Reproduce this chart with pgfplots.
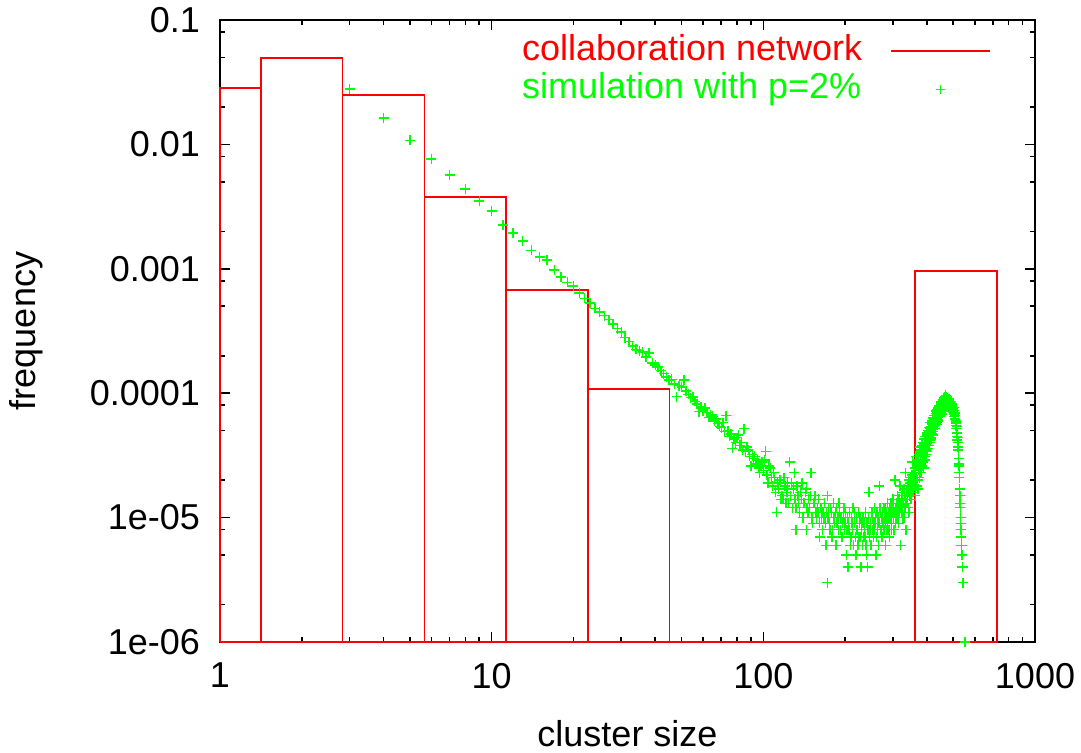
\documentclass[border=0pt]{standalone}
\usepackage{fontspec}
\setmainfont{Liberation Sans}
\usepackage{pgfplots}
\usepackage{pgfplotstable}
\pgfplotsset{compat=1.18}
\definecolor{gpred}{RGB}{255,0,0}
\definecolor{gpgreen}{RGB}{0,255,0}
\pgfplotsset{
  barleg/.style={legend image code/.code={\draw[##1] (0pt,0pt) -- (49.5pt,0pt);}},
  markleg/.style={legend image code/.code={\draw[##1, mark size=2.2pt, line width=0.5pt, mark indices={2}] plot coordinates {(0pt,0pt) (24.75pt,0pt) (49.5pt,0pt)};}},
}

\pgfplotstableread{
x y
1 1e-6
1 0.0284
1.414 0.0284
1.414 1e-6
1.414 0.0495
2.828 0.0495
2.828 1e-6
2.828 0.0249
5.657 0.0249
5.657 1e-6
5.657 0.00377
11.31 0.00377
11.31 1e-6
11.31 0.000676
22.63 0.000676
22.63 1e-6
22.63 0.000108
45.25 0.000108
45.25 1e-6
362 1e-6
362 0.00096
724 0.00096
724 1e-6
1 1e-6
}\bardata

\pgfplotstableread{
x y
3 0.0279
4 0.0163
5 0.0108
6 0.00764
7 0.00568
8 0.00438
9 0.00351
10 0.00292
11 0.00225
12 0.00194
13 0.00167
14 0.00141
15 0.00124
16 0.00118
17 0.00098
18 0.00086
19 0.00078
20 0.00073
21 0.00064
22 0.00058
23 0.00053
24 0.00048
25 0.00045
26 0.00042
27 0.00039
28 0.00036
29 0.00033
30 0.00031
31 0.00028
32 0.00026
33 0.00024
34 0.000225
35 0.00022
36 0.000215
37 0.000195
38 0.00021
39 0.000175
40 0.000168
41 162e-6
42 152e-6
43 144e-6
44 135e-6
45 128e-6
46 129e-6
47 119e-6
48 94e-6
49 115e-6
50 112e-6
51 128e-6
52 104e-6
53 98e-6
54 92e-6
55 93e-6
56 86e-6
57 82e-6
58 71e-6
59 78e-6
60 72e-6
61 76e-6
62 70e-6
63 64e-6
64 67e-6
65 65e-6
66 60e-6
67 62e-6
68 57e-6
69 54e-6
70 53e-6
71 58e-6
72 49e-6
73 66e-6
74 50e-6
75 45e-6
76 47e-6
77 36e-6
78 43e-6
79 40e-6
80 44e-6
81 46e-6
82 38e-6
83 40e-6
84 35e-6
85 52e-6
86 34e-6
87 37e-6
88 35e-6
89 31e-6
90 26e-6
91 32e-6
92 30e-6
93 31e-6
94 27e-6
95 29e-6
96 25e-6
97 23e-6
98 26e-6
99 28e-6
100 24e-6
101 29e-6
102 34e-6
103 22e-6
104 19e-6
105 26e-6
106 25e-6
107 21e-6
108 18e-6
109 23e-6
110 21e-6
111 16e-6
112 11e-6
113 19e-6
114 17e-6
115 20e-6
116 14e-6
117 15e-6
118 14e-6
119 21e-6
120 18e-6
121 13e-6
122 16e-6
123 19e-6
124 13e-6
125 28e-6
126 15e-6
127 19e-6
128 12e-6
129 17e-6
130 23e-6
131 14e-6
132 12e-6
132 8e-6
133 18e-6
134 15e-6
135 13e-6
136 11e-6
137 16e-6
138 14e-6
139 19e-6
140 10e-6
141 13e-6
142 13e-6
143 16e-6
144 17e-6
144 8e-6
145 12e-6
146 11e-6
147 14e-6
148 12e-6
149 15e-6
150 23e-6
151 10e-6
152 9e-6
153 13e-6
154 13e-6
155 15e-6
156 11e-6
157 10e-6
158 12e-6
159 11e-6
160 14e-6
161 9e-6
161 7e-6
162 12e-6
163 12e-6
164 10e-6
165 8e-6
166 11e-6
167 10e-6
168 13e-6
169 9e-6
170 6e-6
171 11e-6
172 15e-6
172 3e-6
173 10e-6
174 12e-6
175 9e-6
176 8e-6
177 12e-6
178 11e-6
179 7e-6
180 8e-6
181 13e-6
182 10e-6
183 9e-6
184 11e-6
185 6e-6
186 12e-6
187 9e-6
188 10e-6
189 8e-6
190 13e-6
191 11e-6
192 8e-6
193 10e-6
194 7e-6
195 7e-6
196 9e-6
197 10e-6
198 12e-6
199 8e-6
200 9e-6
201 11e-6
202 5e-6
203 8e-6
204 10e-6
205 4e-6
206 9e-6
207 8e-6
208 11e-6
209 6e-6
210 7e-6
211 10e-6
212 9e-6
213 8e-6
214 12e-6
215 6e-6
216 9e-6
217 11e-6
218 7e-6
219 5e-6
220 10e-6
221 8e-6
222 8e-6
223 6e-6
224 11e-6
225 7e-6
226 9e-6
227 10e-6
228 7e-6
229 4e-6
230 8e-6
231 9e-6
232 6e-6
233 10e-6
234 7e-6
235 9e-6
236 8e-6
237 7e-6
238 11e-6
239 6e-6
240 5e-6
241 9e-6
242 4e-6
243 8e-6
244 10e-6
245 16e-6
246 7e-6
247 8e-6
248 9e-6
249 6e-6
250 6e-6
251 11e-6
252 10e-6
253 8e-6
254 9e-6
255 7e-6
256 12e-6
257 8e-6
258 9e-6
259 10e-6
260 5e-6
261 7e-6
262 11e-6
263 8e-6
264 9e-6
265 10e-6
266 6e-6
267 18e-6
268 9e-6
269 12e-6
270 11e-6
271 8e-6
272 10e-6
273 7e-6
274 9e-6
275 11e-6
276 9e-6
277 12e-6
278 8e-6
279 10e-6
280 12e-6
281 9e-6
282 6e-6
283 11e-6
284 10e-6
285 8e-6
286 13e-6
287 9e-6
288 10e-6
289 11e-6
290 8e-6
291 7e-6
292 12e-6
293 10e-6
294 11e-6
295 13e-6
296 8e-6
297 9e-6
298 11e-6
299 14e-6
300 12e-6
301 10e-6
302 14e-6
303 8e-6
304 11e-6
305 20e-6
306 12e-6
307 9e-6
308 10e-6
309 13e-6
310 11e-6
311 13e-6
312 15e-6
313 10e-6
314 12e-6
315 9e-6
316 14e-6
317 11e-6
318 18e-6
319 12e-6
320 6e-6
321 13e-6
322 15e-6
323 11e-6
324 12e-6
325 16e-6
326 14e-6
327 10e-6
328 13e-6
329 17e-6
330 10e-6
331 15e-6
332 12e-6
333 23e-6
334 14e-6
335 8e-6
336 16e-6
337 13e-6
338 13e-6
339 18e-6
340 15e-6
341 16e-6
342 12e-6
343 20e-6
344 11e-6
345 17e-6
346 15e-6
347 19e-6
348 16e-6
349 21e-6
350 14e-6
351 18e-6
352 22e-6
353 17e-6
354 28e-6
355 19e-6
356 16e-6
357 17e-6
358 23e-6
359 20e-6
360 21e-6
361 25e-6
362 18e-6
363 15e-6
364 24e-6
365 31e-6
366 21e-6
367 18e-6
368 26e-6
369 29e-6
370 20e-6
371 17e-6
372 27e-6
373 32e-6
374 24e-6
375 21e-6
376 34e-6
377 37e-6
378 25e-6
379 31e-6
380 23e-6
381 35e-6
382 27e-6
383 33e-6
384 38e-6
385 26e-6
386 40e-6
387 31e-6
388 28e-6
389 25e-6
390 37e-6
391 43e-6
392 31e-6
393 39e-6
394 29e-6
395 45e-6
396 35e-6
397 32e-6
398 40e-6
399 46e-6
400 34e-6
401 48e-6
402 38e-6
403 36e-6
404 50e-6
405 40e-6
406 53e-6
407 38e-6
408 49e-6
409 40e-6
410 52e-6
411 42e-6
412 58e-6
413 44e-6
414 54e-6
415 43e-6
416 57e-6
417 47e-6
418 56e-6
419 60e-6
420 46e-6
421 63e-6
422 51e-6
423 49e-6
424 61e-6
425 54e-6
426 66e-6
427 58e-6
428 52e-6
429 64e-6
430 55e-6
431 69e-6
432 57e-6
433 72e-6
434 56e-6
435 70e-6
436 58e-6
437 74e-6
438 61e-6
439 76e-6
440 64e-6
441 60e-6
442 71e-6
443 78e-6
444 66e-6
445 80e-6
446 65e-6
447 77e-6
448 67e-6
449 82e-6
450 70e-6
451 85e-6
452 73e-6
453 68e-6
454 79e-6
455 86e-6
456 74e-6
457 88e-6
458 76e-6
459 72e-6
460 83e-6
461 90e-6
462 78e-6
463 92e-6
464 80e-6
465 76e-6
466 86e-6
467 94e-6
468 82e-6
469 96e-6
470 85e-6
471 93e-6
472 85e-6
473 89e-6
474 84e-6
475 90e-6
476 86e-6
477 91e-6
478 80e-6
479 87e-6
480 83e-6
481 88e-6
482 85e-6
483 90e-6
484 83e-6
485 81e-6
486 86e-6
487 79e-6
488 84e-6
489 82e-6
490 86e-6
491 80e-6
492 78e-6
493 76e-6
494 83e-6
495 79e-6
496 81e-6
497 74e-6
498 77e-6
499 72e-6
500 76e-6
501 70e-6
502 77e-6
503 68e-6
504 73e-6
505 65e-6
506 70e-6
507 66e-6
508 69e-6
509 62e-6
510 60e-6
511 58e-6
512 55e-6
513 57e-6
514 52e-6
515 54e-6
516 48e-6
517 45e-6
518 42e-6
519 44e-6
520 40e-6
521 37e-6
522 35e-6
523 30e-6
524 27e-6
525 26e-6
526 23e-6
527 21e-6
528 17e-6
529 15e-6
530 13e-6
531 12e-6
532 10e-6
533 9e-6
534 8e-6
535 7e-6
536 6e-6
537 6e-6
538 5e-6
539 5e-6
540 4e-6
541 4e-6
543 3e-6
545 3e-6
552 1e-6
}\simdata

\begin{document}
\begin{tikzpicture}
\useasboundingbox (-110pt,-55.5pt) rectangle (430.5pt,321pt);
\begin{axis}[
  at={(0pt,0pt)}, anchor=south west,
  scale only axis, width=407.5pt, height=311pt,
  xmode=log, ymode=log,
  xmin=1, xmax=1000, ymin=1e-6, ymax=0.1,
  xtick={1,10,100,1000},
  xticklabels={1,10,100,1000},
  ytick={1e-6,1e-5,1e-4,1e-3,1e-2,1e-1},
  yticklabels={1e-06,1e-05,0.0001,0.001,0.01,0.1},
  minor xtick={2,3,4,5,6,7,8,9,20,30,40,50,60,70,80,90,200,300,400,500,600,700,800,900},
  minor ytick={2e-6,5e-6,8e-6,2e-5,5e-5,8e-5,2e-4,5e-4,8e-4,2e-3,5e-3,8e-3,2e-2,5e-2,8e-2},
  tick align=inside,
  major tick length=5pt, minor tick length=2.5pt,
  tick style={black, line width=0.8pt},
  axis line style={black, line width=1pt},
  tick label style={font=\fontsize{18}{21}\selectfont},
  label style={font=\fontsize{18}{21}\selectfont},
  yticklabel style={xshift=-6.5pt},
  xticklabel style={yshift=-7pt},
  xlabel={cluster size},
  ylabel={frequency},
  xlabel style={at={(axis description cs:0.5,-0.1688)}, anchor=base, inner sep=0pt},
  ylabel style={at={(axis description cs:-0.2258,0.5)}, anchor=base, inner sep=0pt},
  clip=false,
  legend cell align=left,
  legend plot pos=right,
  legend style={at={(axis description cs:0.3706,0.976)}, anchor=north west,
    draw=none, fill=none, inner sep=0pt, outer sep=0pt,
    font=\fontsize{18}{21}\selectfont, row sep=2.8pt, column sep=14pt,
    nodes={inner sep=0pt, text height=12.6pt, text depth=3.6pt}},
]
\addplot[gpred, line width=0.7pt, sharp plot, mark=none, barleg]
  table {\bardata};
\addlegendentry{\textcolor{gpred}{collaboration network}}
\addplot[gpgreen, only marks, mark=+, mark size=2.5pt, line width=0.7pt, markleg]
  table {\simdata};
\addlegendentry{\textcolor{gpgreen}{simulation with p=2\%}}
\end{axis}
\end{tikzpicture}
\end{document}
